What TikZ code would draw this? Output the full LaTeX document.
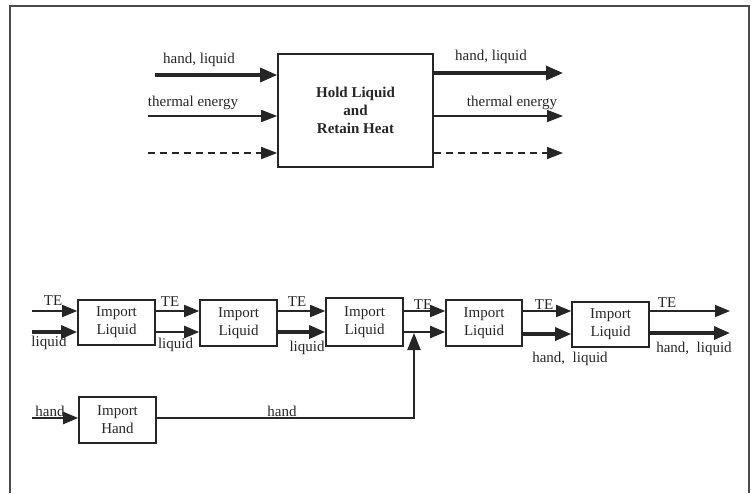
\documentclass[tikz,border=0pt]{standalone}
\usepackage{fontspec}
\setmainfont{Liberation Serif}
\usetikzlibrary{arrows.meta}
\begin{document}
\begin{tikzpicture}[x=1pt,y=-1pt,
  every node/.style={font=\fontsize{15}{18}\selectfont, text=black!85},
  box/.style={draw=black!85, line width=1.6pt, minimum width=77pt, minimum height=46pt, align=center, inner sep=0pt},
  thinarr/.style={draw=black!85, line width=1.6pt, -{Triangle[length=15pt,width=12pt]}},
  medarr/.style={draw=black!85, line width=2.2pt, -{Triangle[length=15pt,width=12pt]}},
  thickarr/.style={draw=black!85, line width=3.2pt, -{Triangle[length=16pt,width=13pt]}},
  dasharr/.style={draw=black!85, line width=1.6pt, dash pattern=on 7pt off 5pt, -{Triangle[length=15pt,width=12pt]}},
  handline/.style={draw=black!85, line width=2.2pt},
  lbl/.style={inner sep=0pt}
]
\useasboundingbox (0,0) rectangle (751,493);
% frame
\draw[black!70, line width=1.2pt] (10,493) -- (10,6) -- (749,6) -- (749,493);

% ---------- top block ----------
\node[box, minimum width=155pt, minimum height=113pt, font=\fontsize{15}{18}\selectfont\bfseries] (T) at (355.5,110.5) {Hold Liquid\\and\\Retain Heat};
\coordinate (ti1) at (155,75);
\coordinate (ti2) at (148,116);
\coordinate (ti3) at (148,153);
\coordinate (to1) at (563,73);
\coordinate (to2) at (563,116);
\coordinate (to3) at (563,153);
\draw[thickarr, -{Triangle[length=17pt,width=14pt]}] (ti1) -- (T.west |- ti1);
\draw[thinarr, -{Triangle[length=16pt,width=12pt]}] (ti2) -- (T.west |- ti2);
\draw[dasharr, -{Triangle[length=16pt,width=12pt]}] (ti3) -- (T.west |- ti3);
\draw[thickarr, -{Triangle[length=17pt,width=14pt]}] (T.east |- to1) -- (to1);
\draw[thinarr, -{Triangle[length=16pt,width=12pt]}] (T.east |- to2) -- (to2);
\draw[dasharr, -{Triangle[length=16pt,width=12pt]}] (T.east |- to3) -- (to3);
\node[lbl] (l1) at (199,60) {hand, liquid};
\node[lbl] (l2) at (193,103) {thermal energy};
\node[lbl] (l3) at (491,57) {hand, liquid};
\node[lbl] (l4) at (512,103) {thermal energy};

% ---------- bottom chain ----------
\node[box, minimum height=45pt] (b1) at (116.5,322.5) {Import\\Liquid};
\node[box] (b2) at (238.5,323) {Import\\Liquid};
\node[box, minimum height=48pt] (b3) at (364.5,322) {Import\\Liquid};
\node[box, minimum width=76pt] (b4) at (484,323) {Import\\Liquid};
\node[box, minimum height=45pt] (b5) at (610.5,324.5) {Import\\Liquid};
\node[box] (b6) at (117.5,420) {Import\\Hand};

\coordinate (te) at (0,311);
\coordinate (lq) at (0,332);
\coordinate (lq5) at (0,334);
\coordinate (inTE) at (32,311);
\coordinate (inLQ) at (32,332);
\coordinate (outTE) at (730,311);
\coordinate (outHL) at (730,333);
\coordinate (inH) at (32,418);
\coordinate (junc) at (414,418);
\coordinate (jtop) at (414,333);

% inputs
\draw[thinarr] (inTE) -- (b1.west |- te);
\draw[thickarr] (inLQ) -- (b1.west |- lq);
% 1 -> 2
\draw[thinarr] (b1.east |- te) -- (b2.west |- te);
\draw[medarr] (b1.east |- lq) -- (b2.west |- lq);
% 2 -> 3
\draw[thinarr] (b2.east |- te) -- (b3.west |- te);
\draw[thickarr] (b2.east |- lq) -- (b3.west |- lq);
% 3 -> 4
\draw[thinarr] (b3.east |- te) -- (b4.west |- te);
\draw[medarr] (b3.east |- lq) -- (b4.west |- lq);
% 4 -> 5
\draw[thinarr] (b4.east |- te) -- (b5.west |- te);
\draw[thickarr] (b4.east |- lq5) -- (b5.west |- lq5);
% outputs
\draw[thinarr] (b5.east |- outTE) -- (outTE);
\draw[thickarr] (b5.east |- outHL) -- (outHL);
% hand
\draw[medarr] (inH) -- (b6.west |- inH);
\draw[handline, -{Triangle[length=17pt,width=13pt]}] (b6.east |- junc) -- (junc) -- (jtop);

% labels
\node[lbl] (t0) at (53,301) {TE};
\node[lbl] (q0) at (49,343) {liquid};
\node[lbl] (t1) at (170,302) {TE};
\node[lbl] (q1) at (175.5,345) {liquid};
\node[lbl] (t2) at (297,302) {TE};
\node[lbl] (q2) at (307,348) {liquid};
\node[lbl] (t3) at (423,305) {TE};
\node[lbl] (t4) at (544,305) {TE};
\node[lbl] (h4) at (570,359) {hand,\ \ liquid};
\node[lbl] (t5) at (667,303) {TE};
\node[lbl] (h5) at (694,349) {hand,\ \ liquid};
\node[lbl] (hi) at (50,411) {hand};
\node[lbl] (hm) at (282,411) {hand};
\end{tikzpicture}
\end{document}
